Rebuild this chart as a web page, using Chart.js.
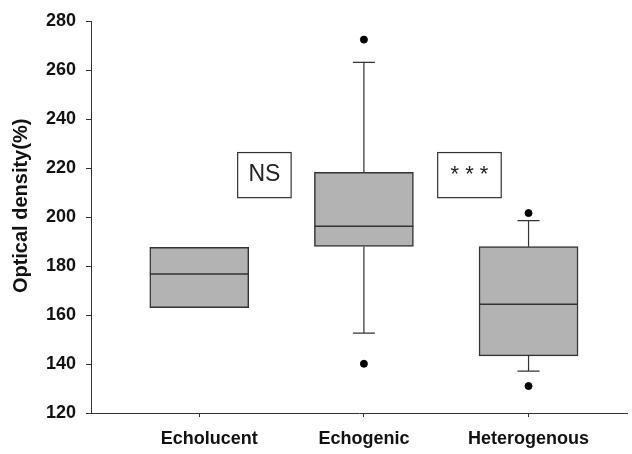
<!DOCTYPE html>
<html>
<head>
<meta charset="utf-8">
<script src="https://cdn.jsdelivr.net/npm/chart.js@4/dist/chart.umd.min.js"></script>
<style>
  body { margin: 0; background: #fff; }
  #wrap { width: 632px; height: 454px; }
</style>
</head>
<body>
<div id="wrap"><canvas id="chart" width="632" height="454"></canvas></div>
<script>
// Box plot values
const categories = ['Echolucent', 'Echogenic', 'Heterogenous'];
const q1 = [163.0, 188.0, 143.3];
const median = [176.7, 196.2, 164.4];
const q3 = [187.6, 218.2, 187.9];
const whiskerLow = [null, 152.6, 137.1];
const whiskerHigh = [null, 263.1, 198.5];
const outliers = [[], [272.4, 140.1], [201.6, 131.0]];
const yTicks = [120, 140, 160, 180, 200, 220, 240, 260, 280];

const BOX_HALF = 0.3;   // half box width in category units
const CAP_HALF = 0.067; // half whisker cap width

const dark = '#333333';

// Build the marks from the arrays above
const boxData = categories.map((c, i) => ({ x: i + 1, y: [q1[i], q3[i]] }));

const medianData = [];
categories.forEach((c, i) => {
    medianData.push({ x: i + 1 - BOX_HALF, y: median[i] });
    medianData.push({ x: i + 1 + BOX_HALF, y: median[i] });
    medianData.push({ x: i + 1.5, y: null });
});

const whiskerData = [];
categories.forEach((c, i) => {
    const x = i + 1;
    if (whiskerHigh[i] !== null) {
        whiskerData.push({ x: x, y: q3[i] }, { x: x, y: whiskerHigh[i] }, { x: x, y: null });
        whiskerData.push({ x: x - CAP_HALF, y: whiskerHigh[i] }, { x: x + CAP_HALF, y: whiskerHigh[i] }, { x: x, y: null });
    }
    if (whiskerLow[i] !== null) {
        whiskerData.push({ x: x, y: q1[i] }, { x: x, y: whiskerLow[i] }, { x: x, y: null });
        whiskerData.push({ x: x - CAP_HALF, y: whiskerLow[i] }, { x: x + CAP_HALF, y: whiskerLow[i] }, { x: x, y: null });
    }
});

const outlierData = [];
outliers.forEach((list, i) => list.forEach(v => outlierData.push({ x: i + 1, y: v })));

// Significance boxes ("NS", "***") drawn on top of the chart area
const notesPlugin = {
    id: 'notes',
    afterDatasetsDraw(chart, args, opts) {
        const { ctx, scales } = chart;
        ctx.save();
        opts.items.forEach(n => {
            const l = scales.x.getPixelForValue(n.x0);
            const r = scales.x.getPixelForValue(n.x1);
            const t = scales.y.getPixelForValue(n.y1);
            const b = scales.y.getPixelForValue(n.y0);
            ctx.fillStyle = '#fff';
            ctx.fillRect(l, t, r - l, b - t);
            ctx.strokeStyle = dark;
            ctx.lineWidth = 1.2;
            ctx.strokeRect(l, t, r - l, b - t);
            ctx.fillStyle = '#222';
            ctx.font = n.font;
            ctx.textAlign = 'center';
            ctx.textBaseline = 'middle';
            ctx.fillText(n.text, (l + r) / 2, (t + b) / 2);
        });
        ctx.restore();
    }
};

Chart.defaults.font.family = "'Liberation Sans', Arial, sans-serif";
Chart.defaults.color = '#111';

new Chart(document.getElementById('chart'), {
    type: 'bar',
    data: {
        datasets: [
            {
                type: 'bar',
                data: boxData,
                backgroundColor: '#b3b3b3',
                borderColor: dark,
                borderWidth: 1.5,
                borderSkipped: false,
                barThickness: 99,
                grouped: false,
                order: 3
            },
            {
                type: 'line',
                data: medianData,
                borderColor: dark,
                borderWidth: 1.5,
                pointRadius: 0,
                spanGaps: false,
                order: 2
            },
            {
                type: 'line',
                data: whiskerData,
                borderColor: dark,
                borderWidth: 1.2,
                pointRadius: 0,
                spanGaps: false,
                order: 2
            },
            {
                type: 'scatter',
                data: outlierData,
                backgroundColor: '#000',
                borderColor: '#000',
                pointRadius: 3.5,
                order: 1
            }
        ]
    },
    options: {
        responsive: false,
        animation: false,
        layout: { padding: { top: 21, right: 0, bottom: 0, left: 0 } },
        plugins: {
            legend: { display: false },
            tooltip: { enabled: false },
            notes: {
                items: [
                    { text: 'NS', x0: 1.233, x1: 1.558, y0: 207.9, y1: 226.3, font: "23px 'Liberation Sans', Arial, sans-serif" },
                    { text: '* * *', x0: 2.448, x1: 2.834, y0: 207.9, y1: 226.3, font: "22px 'Liberation Sans', Arial, sans-serif" }
                ]
            }
        },
        scales: {
            x: {
                type: 'linear',
                offset: false,
                min: 0.3424,
                max: 3.598,
                afterBuildTicks: scale => {
                    scale.ticks = categories.map((c, i) => ({ value: i + 1 }));
                },
                afterFit: scale => { scale.height = 41; },
                ticks: {
                    callback: v => (v === 1 ? '    ' : '') + categories[v - 1],
                    font: { size: 18, weight: 'bold' },
                    padding: 11,
                    maxRotation: 0,
                    autoSkip: false
                },
                grid: { offset: false, drawOnChartArea: false, tickLength: 4, color: dark },
                border: { color: dark, width: 1 }
            },
            y: {
                min: 120,
                max: 280,
                afterBuildTicks: scale => {
                    scale.ticks = yTicks.map(v => ({ value: v }));
                },
                afterFit: scale => { scale.width = 91; },
                ticks: {
                    font: { size: 18, weight: 'bold' },
                    padding: 10
                },
                grid: { drawOnChartArea: false, tickLength: 5, color: dark },
                border: { color: dark, width: 1 },
                title: {
                    display: true,
                    text: '    Optical density(%)',
                    font: { size: 20, weight: 'bold' },
                    padding: { top: 9, bottom: 0 }
                }
            }
        }
    },
    plugins: [notesPlugin]
});
</script>
</body>
</html>
